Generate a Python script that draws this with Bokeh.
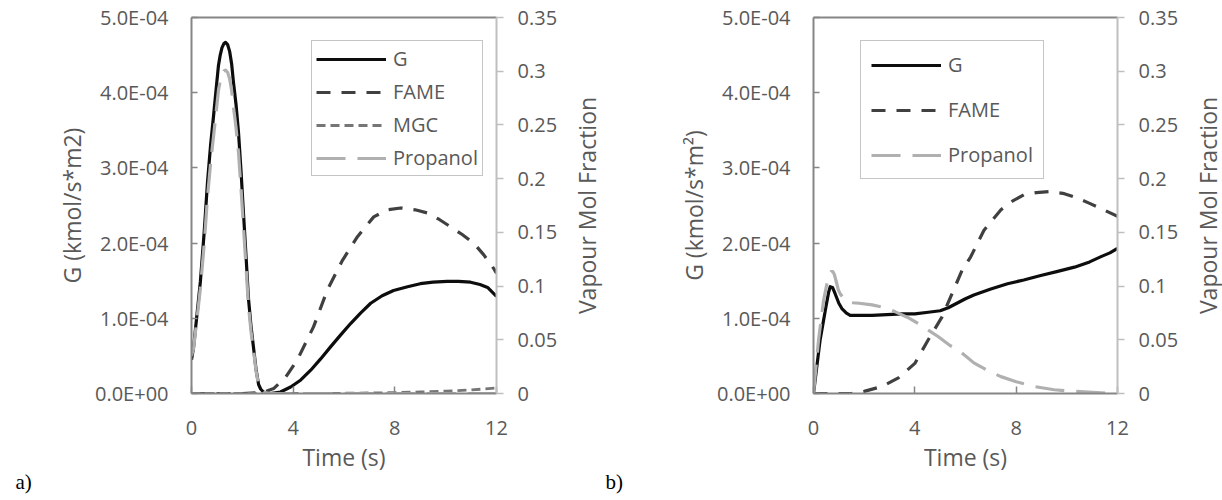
import math
import numpy as np
from bokeh.plotting import figure
from bokeh.models import (Range1d, LinearAxis, FixedTicker, CustomJSTickFormatter,
                          Legend, LegendItem, Label)
from bokeh.layouts import row
from bokeh.embed import file_html
from bokeh.resources import INLINE

# ---------------- panel a) ----------------
# G flux, in units of 1e-4 kmol/s*m2
t_g_a = [0, 0.08, 0.2, 0.35, 0.5, 0.63, 0.75, 0.87, 0.97, 1.06, 1.13, 1.2, 1.27, 1.34, 1.42,
         1.5, 1.58, 1.65, 1.75, 1.85, 1.95, 2.05, 2.15, 2.24, 2.34, 2.44, 2.54, 2.64, 2.72,
         2.83, 3.1, 3.5, 3.9, 4.3, 4.69, 5.08, 5.47, 5.87, 6.26, 6.65, 7.05, 7.5, 7.95, 8.5,
         9.0, 9.5, 10.06, 10.5, 10.98, 11.35, 11.65, 12.0]
g_a_e4 = [0.45, 0.61, 1.0, 1.49, 2.15, 2.81, 3.3, 3.7, 4.05, 4.36, 4.5, 4.6, 4.65, 4.67, 4.64,
          4.55, 4.38, 4.14, 3.85, 3.47, 2.95, 2.37, 1.8, 1.27, 0.9, 0.61, 0.32, 0.12, 0.06,
          0.02, 0.0, 0.02, 0.086, 0.18, 0.31, 0.46, 0.62, 0.78, 0.93, 1.07, 1.2, 1.3, 1.37,
          1.42, 1.46, 1.48, 1.49, 1.49, 1.48, 1.45, 1.41, 1.29]

t_fame_a = [0, 1, 2, 2.8, 3.23, 3.7, 4.17, 4.8, 5.35, 5.94, 6.53, 7.17, 7.7, 8.23, 8.8,
            9.29, 9.75, 10.2, 10.65, 11.1, 11.5, 11.9, 12]
fame_a = [0, 0, 0, 0.001, 0.0046, 0.015, 0.0316, 0.062, 0.0966, 0.124, 0.146, 0.1644,
          0.171, 0.1727, 0.171, 0.168, 0.162, 0.155, 0.148, 0.140, 0.129, 0.116, 0.112]

t_mgc_a = [0, 2, 4, 6, 8, 9, 10, 11, 11.5, 12]
mgc_a = [0, 0, 0, 0.0002, 0.0008, 0.0014, 0.0022, 0.0033, 0.0042, 0.0052]

t_prop_a = [0, 0.08, 0.2, 0.35, 0.5, 0.63, 0.75, 0.87, 0.97, 1.06, 1.13, 1.2, 1.27, 1.34,
            1.42, 1.5, 1.58, 1.65, 1.75, 1.85, 1.95, 2.05, 2.15, 2.24, 2.34, 2.44, 2.54,
            2.64, 2.72, 2.83, 3.1, 4, 5, 6, 7, 8, 9, 10, 11, 12]
prop_a = [0.035, 0.042, 0.066, 0.098, 0.139, 0.183, 0.214, 0.24, 0.262, 0.282, 0.291, 0.297,
          0.3, 0.301, 0.299, 0.293, 0.282, 0.267, 0.248, 0.224, 0.19, 0.153, 0.116, 0.082,
          0.058, 0.04, 0.021, 0.008, 0.004, 0.001, 0, 0, 0, 0, 0, 0, 0, 0, 0, 0]

# ---------------- panel b) ----------------
t_g_b = [0, 0.26, 0.5, 0.6, 0.66, 0.75, 0.85, 1.0, 1.12, 1.3, 1.45, 1.8, 2.31, 2.9, 3.5, 4.0,
         4.53, 5.0, 5.32, 6.0, 6.33, 7.0, 7.66, 8.3, 8.97, 9.6, 10.3, 10.9, 11.35, 11.7, 12.0]
g_b_e4 = [0, 0.71, 1.17, 1.35, 1.42, 1.41, 1.33, 1.2, 1.13, 1.07, 1.04, 1.04, 1.04, 1.05,
          1.06, 1.06, 1.08, 1.10, 1.14, 1.26, 1.31, 1.39, 1.46, 1.51, 1.57, 1.62, 1.68, 1.75,
          1.82, 1.87, 1.93]

t_fame_b = [0, 1.5, 2.0, 2.7, 3.35, 4.0, 4.53, 5.08, 5.47, 5.87, 6.2, 6.73, 7.4, 7.85, 8.3,
            8.8, 9.35, 9.9, 10.4, 10.9, 11.45, 12]
fame_b = [0, 0, 0.002, 0.0065, 0.0145, 0.028, 0.05, 0.0715, 0.093, 0.115, 0.127, 0.152,
          0.171, 0.179, 0.185, 0.187, 0.188, 0.186, 0.182, 0.177, 0.171, 0.165]

t_prop_b = [0, 0.2, 0.4, 0.52, 0.62, 0.7, 0.76, 0.82, 0.9, 0.98, 1.06, 1.15, 1.26, 1.37, 1.55,
            1.8, 2.31, 2.8, 3.23, 3.7, 4.14, 4.53, 4.93, 5.4, 5.72, 6.33, 6.9, 7.4, 8.0, 8.7,
            9.5, 10.3, 11.2, 12]
prop_b = [0.0, 0.05, 0.087, 0.101, 0.11, 0.1135, 0.1135, 0.111, 0.104, 0.0965, 0.0925, 0.09,
          0.0875, 0.0855, 0.0845, 0.084, 0.0825, 0.08, 0.076, 0.071, 0.065, 0.059, 0.0528,
          0.0445, 0.0405, 0.0285, 0.021, 0.0157, 0.011, 0.0065, 0.0035, 0.002, 0.0008, 0.0]

x_ticks = [0, 4, 8, 12]
g_ticks = [0, 1e-4, 2e-4, 3e-4, 4e-4, 5e-4]
frac_ticks = [0, 0.05, 0.1, 0.15, 0.2, 0.25, 0.3, 0.35]

FONT = "Open Sans"
TXT = "#595959"
AXIS_DARK = "#868686"
AXIS_LIGHT = "#bfbfbf"

STYLES = {
    "G": dict(line_color="#0d0d0d", line_width=3.2),
    "FAME": dict(line_color="#404040", line_width=3.2, line_dash="14 11"),
    "MGC": dict(line_color="#767676", line_width=2.8, line_dash="9 5"),
    "Propanol": dict(line_color="#b0b0b0", line_width=3.2, line_dash="29 12"),
}

sci_fmt = """
const parts = tick.toExponential(1).split('e');
let e = parseInt(parts[1]);
const sign = e < 0 ? '-' : '+';
e = Math.abs(e);
return parts[0] + 'E' + sign + (e < 10 ? '0' : '') + e;
"""
frac_fmt = "return String(parseFloat(tick.toFixed(2)));"


def make_panel(width, b_left, b_right, g_label, tag, tag_x, series, legend_loc,
               leg_pad, leg_spacing):
    p = figure(width=width, height=500, x_range=Range1d(0, 12), y_range=Range1d(0, 5e-4),
               output_backend="svg", toolbar_location=None,
               min_border_left=b_left, min_border_right=b_right,
               min_border_top=17, min_border_bottom=107)
    p.extra_y_ranges = {"frac": Range1d(0, 0.35)}
    p.grid.visible = False
    p.outline_line_color = None
    p.background_fill_color = "white"
    p.border_fill_color = "white"

    xa = p.xaxis[0]
    xa.ticker = FixedTicker(ticks=x_ticks)
    xa.axis_label = "Time (s)"
    ya = p.yaxis[0]
    ya.ticker = FixedTicker(ticks=g_ticks)
    ya.formatter = CustomJSTickFormatter(code=sci_fmt)
    ya.axis_label = g_label

    ra = LinearAxis(y_range_name="frac", ticker=FixedTicker(ticks=frac_ticks),
                    formatter=CustomJSTickFormatter(code=frac_fmt))
    p.add_layout(ra, "right")

    for ax in (xa, ya, ra):
        ax.axis_line_width = 2
        ax.major_tick_line_width = 1.5
        ax.minor_tick_line_color = None
        ax.major_label_text_font = FONT
        ax.major_label_text_font_size = "20px"
        ax.major_label_text_color = TXT
        ax.axis_label_text_font = FONT
        ax.axis_label_text_font_size = "23px"
        ax.axis_label_text_font_style = "normal"
        ax.axis_label_text_color = TXT
    for ax in (xa, ya):
        ax.axis_line_color = AXIS_DARK
        ax.major_tick_line_color = AXIS_DARK
        ax.major_tick_out = 0
    xa.major_tick_in = 7
    xa.major_label_standoff = 27
    xa.axis_label_standoff = 3
    ya.major_tick_in = 6
    ya.major_label_standoff = 23
    ya.axis_label_standoff = 4
    ra.axis_line_color = AXIS_LIGHT
    ra.major_tick_line_color = AXIS_LIGHT
    ra.major_tick_in = 0
    ra.major_tick_out = 7
    ra.major_label_standoff = 14

    # right-hand axis title, reading bottom to top, beside the secondary axis
    p.add_layout(Label(x=26, y=188, x_units="screen", y_units="screen",
                       text="Vapour Mol Fraction", angle=math.pi / 2,
                       text_align="center", text_baseline="middle",
                       text_font=FONT, text_font_size="23px", text_color=TXT), "right")

    # top border of the plot area
    top = LinearAxis(major_tick_line_color=None, minor_tick_line_color=None,
                     major_label_text_font_size="0px", axis_line_color=AXIS_DARK,
                     axis_line_width=2, ticker=FixedTicker(ticks=[]))
    p.add_layout(top, "above")

    items = []
    for name, t, y, rng in series:
        kw = dict(line_join="round")
        if rng is not None:
            kw["y_range_name"] = rng
        r = p.line(t, y, **STYLES[name], **kw)
        items.append(LegendItem(label=name, renderers=[r]))

    leg = Legend(items=items, location=legend_loc, orientation="vertical",
                 label_text_font=FONT, label_text_font_size="20px", label_text_color=TXT,
                 glyph_width=70, glyph_height=20, label_height=20,
                 label_standoff=7, spacing=leg_spacing, padding=leg_pad, margin=0,
                 border_line_color="#8c8c8c", border_line_width=1.5,
                 background_fill_color="white", background_fill_alpha=1)
    p.add_layout(leg, "center")

    # panel tag under the time axis
    p.add_layout(Label(x=tag_x, y=18, x_units="screen", y_units="screen", text=tag,
                       text_font="Liberation Serif", text_font_size="21px",
                       text_color="black", text_baseline="middle"), "below")
    return p


g_a = np.array(g_a_e4) * 1e-4
g_b = np.array(g_b_e4) * 1e-4

pa = make_panel(604, 191, 108, "G (kmol/s*m2)", "a)", -176,
                [("G", t_g_a, g_a, None), ("FAME", t_fame_a, fame_a, "frac"),
                 ("MGC", t_mgc_a, mgc_a, "frac"), ("Propanol", t_prop_a, prop_a, "frac")],
                (120, 217), 4, 6)
pb = make_panel(618, 209, 105, "G (kmol/s*m²)", "b)", -208,
                [("G", t_g_b, g_b, None), ("FAME", t_fame_b, fame_b, "frac"),
                 ("Propanol", t_prop_b, prop_b, "frac")],
                (47, 214), 10, 18)

layout = row(pa, pb, spacing=0)
open("out.html", "w").write(file_html(layout, INLINE))
